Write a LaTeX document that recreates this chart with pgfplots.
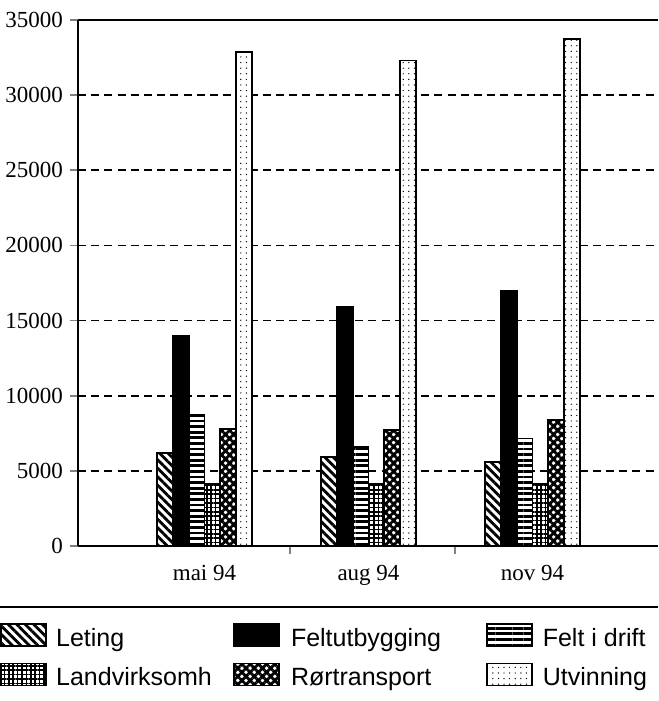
\documentclass[border=0pt]{standalone}
\usepackage{fontspec}
\setmainfont{Liberation Serif}
\newfontfamily\lsans{Liberation Sans}
\usepackage{pgfplots}
\pgfplotsset{compat=1.18}
\usetikzlibrary{patterns.meta}
\begin{document}
\begin{tikzpicture}
\begin{axis}[
  scale only axis, width=290pt, height=263pt,
  ybar=0pt, bar width=0.0965,
  xmin=0.229, xmax=3.765, ymin=0, ymax=35000,
  axis y line*=left, axis x line*=bottom,
  axis line style={line width=1pt},
  xtick={1,2,3}, xticklabels={mai 94, aug 94, nov 94},
  minor xtick={1.52,2.53},
  major x tick style={draw=none},
  minor x tick style={line width=1pt},
  minor tick length=4pt,
  major tick length=4pt,
  tick align=outside,
  major y tick style={line width=0.9pt},
  ytick={0,5000,...,35000},
  scaled y ticks=false,
  ymajorgrids,
  y grid style={black, line width=0.8pt, dash pattern=on 4pt off 2.6pt},
  /pgf/number format/assume math mode=true,
  /pgf/number format/1000 sep={},
  every tick label/.append style={font=\fontsize{11.5}{13.8}\selectfont},
  xticklabel style={font=\fontsize{11.5}{13.8}\selectfont, yshift=-2pt},
  yticklabel style={font=\fontsize{11.5}{13.8}\selectfont},
  every axis plot post/.append style={
    legend image code/.code={\draw[##1] (0pt,-3pt) rectangle (22.5pt,8pt);}},
  legend columns=3,
  legend style={at={(-0.1345,-0.146)}, anchor=north west, draw=none, fill=none,
    inner sep=0pt, column sep=0pt, row sep=5.5pt,
    font=\lsans\fontsize{12.5}{15}\selectfont,
    cells={anchor=west},
    nodes={inner sep=0pt, text height=9pt, text depth=2.5pt}},
  after end axis/.code={
    \draw[line width=1pt] (rel axis cs:0,1) -- (rel axis cs:1,1);
    \draw[line width=0.7pt] (rel axis cs:-0.1345,-0.116) -- (rel axis cs:1,-0.116);
    \coordinate (bbSW) at (rel axis cs:-0.1345,-0.2947);
    \coordinate (bbNE) at (rel axis cs:1,1.038);
  },
]
\addplot[draw=black, line width=0.9pt, fill=white,
  postaction={pattern={Lines[angle=-45,distance=3pt,line width=1.4pt]}}]
  coordinates {(1,6200) (2,5900) (3,5600)};
\addlegendentry{\makebox[93pt][l]{\hspace{4.5pt}Leting}}
\addplot[draw=black, line width=0.9pt, fill=black]
  coordinates {(1,14000) (2,15900) (3,16950)};
\addlegendentry{\makebox[103pt][l]{\hspace{5.5pt}Feltutbygging}}
\addplot[draw=black, line width=0.9pt, fill=white,
  postaction={pattern={Lines[angle=0,distance=2.8pt,line width=1.4pt]}}]
  coordinates {(1,8700) (2,6600) (3,7150)};
\addlegendentry{\hspace{5pt}Felt i drift}
\addplot[draw=black, line width=0.9pt, fill=white,
  postaction={pattern={Hatch[angle=0,distance=2.2pt,line width=0.75pt]}}]
  coordinates {(1,4100) (2,4100) (3,4150)};
\addlegendentry{\makebox[93pt][l]{\hspace{4.5pt}Landvirksomh}}
\addplot[draw=black, line width=0.9pt, fill=white,
  postaction={pattern={Hatch[angle=45,distance=2.9pt,line width=1.4pt]}}]
  coordinates {(1,7800) (2,7700) (3,8400)};
\addlegendentry{\makebox[103pt][l]{\hspace{5.5pt}Rørtransport}}
\addplot[draw=black, line width=0.9pt, fill=white,
  postaction={pattern={Dots[distance=2.8pt,radius=0.35pt]}}]
  coordinates {(1,32850) (2,32300) (3,33750)};
\addlegendentry{\hspace{5pt}Utvinning}
\end{axis}
\pgfresetboundingbox
\useasboundingbox (bbSW) rectangle (bbNE);
\end{tikzpicture}
\end{document}
